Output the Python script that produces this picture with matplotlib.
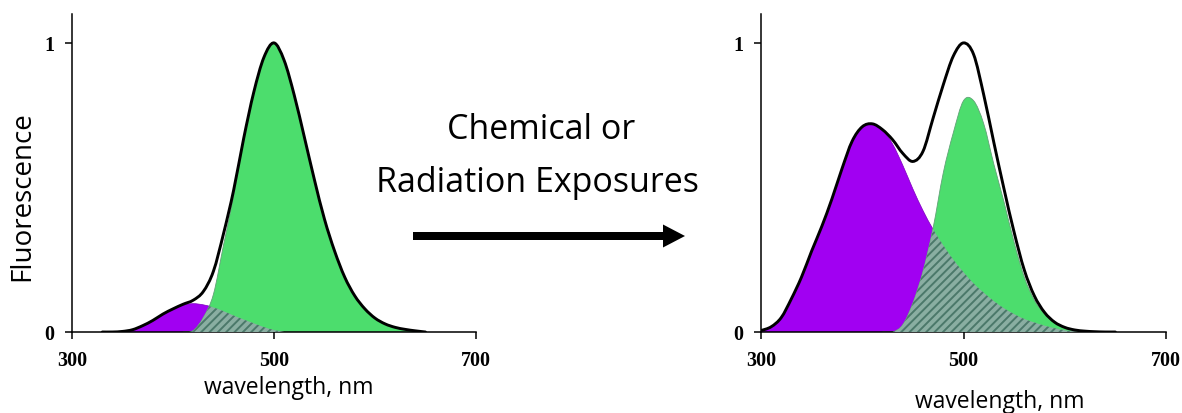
import numpy as np
import matplotlib
matplotlib.use("Agg")
import matplotlib.pyplot as plt
from matplotlib.path import Path
from matplotlib.patches import PathPatch, FancyArrow

# Emission bands, sampled every 10 nm (normalised fluorescence)
# before exposure
before_green_nm = np.arange(410, 660, 10)
before_green = [0.0, 0.005, 0.05, 0.13, 0.30, 0.47, 0.67, 0.83, 0.95, 1.0,
                0.94, 0.82, 0.675, 0.527, 0.39, 0.28, 0.19, 0.125, 0.08, 0.048,
                0.028, 0.016, 0.009, 0.004, 0.0]
before_violet_nm = np.arange(350, 520, 10)
before_violet = [0.0, 0.006, 0.02, 0.038, 0.06, 0.078, 0.093, 0.098, 0.094, 0.085,
                 0.072, 0.057, 0.043, 0.03, 0.017, 0.007, 0.0]
before_total_nm = np.arange(330, 660, 10)
before_total = [0.0, 0.0, 0.002, 0.008, 0.022, 0.04, 0.062, 0.08, 0.096, 0.11,
                0.14, 0.21, 0.34, 0.49, 0.67, 0.83, 0.95, 1.0, 0.94, 0.82,
                0.675, 0.527, 0.39, 0.28, 0.19, 0.125, 0.08, 0.048, 0.028, 0.016,
                0.009, 0.004, 0.0]

# after exposure
after_violet_nm = np.arange(300, 630, 10)
after_violet = [0.005, 0.018, 0.05, 0.115, 0.19, 0.28, 0.365, 0.46, 0.565, 0.66,
                0.71, 0.72, 0.70, 0.65, 0.577, 0.495, 0.42, 0.355, 0.30, 0.25,
                0.207, 0.168, 0.136, 0.107, 0.082, 0.062, 0.045, 0.033, 0.022, 0.013,
                0.006, 0.002, 0.0]
after_green_nm = np.arange(420, 640, 10)
after_green = [0.0, 0.0, 0.025, 0.10, 0.21, 0.36, 0.55, 0.69, 0.80, 0.80,
               0.72, 0.58, 0.45, 0.31, 0.19, 0.11, 0.063, 0.032, 0.014, 0.004,
               0.0, 0.0]
after_total_nm = np.arange(300, 660, 10)
after_total = [0.005, 0.018, 0.05, 0.115, 0.19, 0.28, 0.365, 0.46, 0.565, 0.66,
               0.71, 0.72, 0.70, 0.665, 0.618, 0.59, 0.625, 0.74, 0.855, 0.955,
               1.0, 0.96, 0.82, 0.655, 0.495, 0.345, 0.215, 0.125, 0.068, 0.034,
               0.016, 0.007, 0.003, 0.001, 0.0, 0.0]

x_ticks = [300, 500, 700]
y_ticks = [0, 1]

GREEN = "#4cdd6d"
VIOLET = "#a100f2"
HATCH_BG = "#8aaea2"
HATCH_FG = "#4b786a"

plt.rcParams["hatch.linewidth"] = 1.4
SANS = ["Open Sans", "DejaVu Sans"]


def smooth_path(x, y, closed=False):
    # Catmull-Rom through the samples, drawn as cubic Bezier segments
    pts = np.column_stack([x, y]).astype(float)
    ext = np.vstack([pts[0], pts, pts[-1]])
    verts = [pts[0]]
    codes = [Path.MOVETO]
    for i in range(len(pts) - 1):
        p0, p1, p2, p3 = ext[i], ext[i + 1], ext[i + 2], ext[i + 3]
        verts += [p1 + (p2 - p0) / 6, p2 - (p3 - p1) / 6, p2]
        codes += [Path.CURVE4] * 3
    if closed:
        verts += [(x[-1], 0), (x[0], 0), (x[0], 0)]
        codes += [Path.LINETO, Path.LINETO, Path.CLOSEPOLY]
    return Path(verts, codes)


def draw_panel(ax, violet_nm, violet, green_nm, green, total_nm, total):
    violet_patch = PathPatch(smooth_path(violet_nm, violet, True), facecolor=VIOLET,
                             edgecolor="#7d00bd", lw=0.5, zorder=1)
    green_patch = PathPatch(smooth_path(green_nm, green, True), facecolor=GREEN,
                            edgecolor="#62a277", lw=0.6, zorder=2)
    ax.add_patch(violet_patch)
    ax.add_patch(green_patch)

    # where the two bands overlap
    overlap = PathPatch(smooth_path(violet_nm, violet, True), facecolor=HATCH_BG,
                        edgecolor=HATCH_FG, hatch="////", lw=0, zorder=3)
    ax.add_patch(overlap)
    overlap.set_clip_path(green_patch)

    ax.add_patch(PathPatch(smooth_path(total_nm, total), facecolor="none",
                           edgecolor="black", lw=2.1, zorder=4, capstyle="round"))

    ax.set_xlim(300, 700)
    ax.set_ylim(0, 1.10)
    ax.set_xticks(x_ticks)
    ax.set_yticks(y_ticks)
    ax.spines[["top", "right"]].set_visible(False)
    ax.spines[["left", "bottom"]].set_linewidth(1.1)
    ax.tick_params(direction="out", length=5, width=1.1, pad=8)
    for lab in ax.get_xticklabels() + ax.get_yticklabels():
        lab.set_fontfamily("Liberation Serif")
        lab.set_fontweight("bold")
        lab.set_fontsize(14.5)


fig = plt.figure(figsize=(11.82, 4.14), dpi=100)
W, H = 1182, 414

ax1 = fig.add_axes([72 / W, 1 - 333 / H, 404 / W, 318 / H])
ax2 = fig.add_axes([761 / W, 1 - 333 / H, 405 / W, 318 / H])

draw_panel(ax1, before_violet_nm, before_violet, before_green_nm, before_green,
           before_total_nm, before_total)
draw_panel(ax2, after_violet_nm, after_violet, after_green_nm, after_green,
           after_total_nm, after_total)

fig.text(22 / W, 1 - 196 / H, "Fluorescence", rotation=90, ha="center", va="center",
         fontsize=20, family=SANS)
fig.text(289 / W, 1 - 388 / H, "wavelength, nm", ha="center", va="center",
         fontsize=16.5, family=SANS)
fig.text(1000 / W, 1 - 402 / H, "wavelength, nm", ha="center", va="center",
         fontsize=16.5, family=SANS)

fig.text(541 / W, 1 - 139 / H, "Chemical or", ha="center", va="baseline",
         fontsize=24.5, family=SANS)
fig.text(537 / W, 1 - 192 / H, "Radiation Exposures", ha="center", va="baseline",
         fontsize=24.5, family=SANS)

fig.add_artist(FancyArrow(413 / W, 1 - 237 / H, (685 - 413) / W, 0,
                          width=8 / H, head_width=23 / H, head_length=22 / W,
                          length_includes_head=True, transform=fig.transFigure,
                          color="black", lw=0))

fig.savefig("out.png", dpi=100)
